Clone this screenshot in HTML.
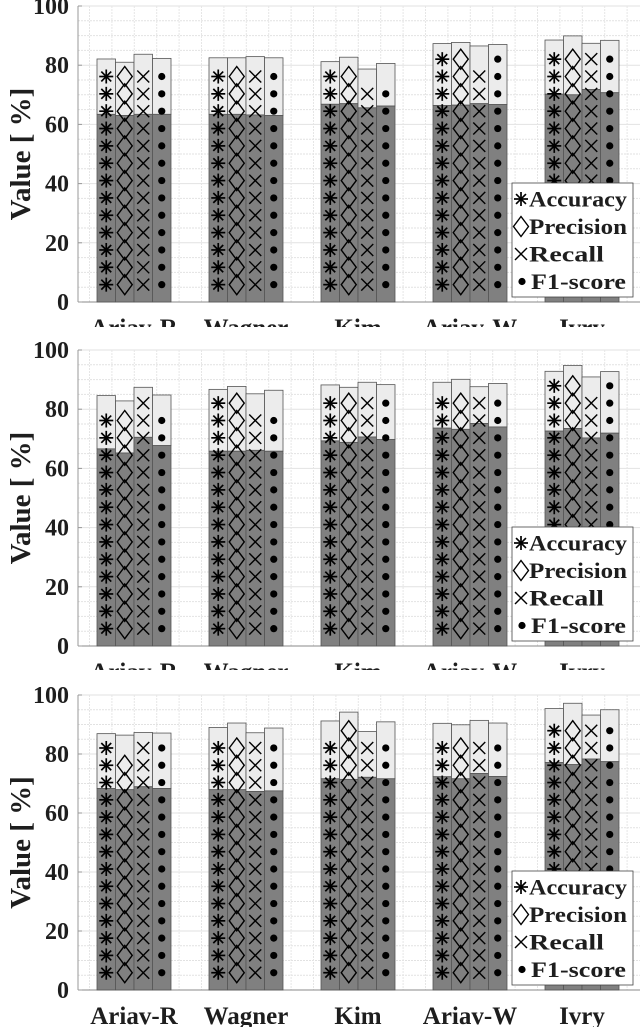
<!DOCTYPE html>
<html><head><meta charset="utf-8"><style>
html,body{margin:0;padding:0;background:#fff;}
svg{display:block;}
text{font-family:"Liberation Serif",serif;font-weight:bold;fill:#1e1e1e;}
</style></head><body>
<svg id="chart" width="640" height="1027" viewBox="0 0 640 1027" xmlns="http://www.w3.org/2000/svg">
<defs>
<clipPath id="c0"><rect x="0" y="0" width="640" height="327"/></clipPath>
<clipPath id="c1"><rect x="0" y="330" width="640" height="340"/></clipPath>
<clipPath id="c2"><rect x="0" y="680" width="640" height="347"/></clipPath>
</defs>
</svg>
<script>
const categories = ["Ariav-R","Wagner","Kim","Ariav-W","Ivry"];
const seriesNames = ["Accuracy","Precision","Recall","F1-score"];
const yTicks = [0,20,40,60,80,100];
// totals (upper light bar tops) per panel: [group][metric]
const p1Total = [[82.1,81.0,83.7,82.3],[82.5,82.5,82.9,82.5],[81.2,82.7,78.7,80.6],[87.3,87.7,86.5,87.0],[88.5,89.9,87.4,88.4]];
const p1Lower = [[63.4,63.0,63.4,63.4],[63.4,63.4,63.2,63.0],[66.8,67.0,65.6,66.2],[66.4,66.5,67.0,66.7],[70.2,70.0,71.8,70.7]];
const p2Total = [[84.6,82.8,87.4,84.8],[86.7,87.7,85.2,86.4],[88.2,87.4,89.1,88.3],[89.1,90.1,87.6,88.7],[92.8,94.8,90.9,92.7]];
const p2Lower = [[66.6,65.2,70.5,67.7],[65.8,65.8,66.1,65.8],[69.3,68.8,70.6,69.8],[73.6,73.2,75.2,74.0],[72.6,73.5,70.3,71.9]];
const p3Total = [[86.9,86.4,87.3,87.1],[89.0,90.5,87.2,88.8],[91.2,94.2,87.6,90.9],[90.4,89.9,91.4,90.5],[95.4,97.2,93.2,95.0]];
const p3Lower = [[68.3,67.9,68.9,68.3],[67.9,67.9,67.3,67.5],[71.6,71.4,72.1,71.6],[72.3,71.6,73.4,72.4],[77.1,76.4,78.3,77.4]];

const NS="http://www.w3.org/2000/svg";
const svg=document.getElementById('chart');
function mk(tag,attrs,parent){const e=document.createElementNS(NS,tag);for(const k in attrs)e.setAttribute(k,attrs[k]);(parent||svg).appendChild(e);return e;}

const panels=[
 {top:6,bottom:302,clip:'c0',legTop:183,total:p1Total,lower:p1Lower},
 {top:350,bottom:646,clip:'c1',legTop:527,total:p2Total,lower:p2Lower},
 {top:695,bottom:990,clip:'c2',legTop:871,total:p3Total,lower:p3Lower}
];
const xLeft=78, xRight=640, groupC0=134, groupStep=112, barW=18.5;
function xc(i){return groupC0+i*groupStep;}

function marker(g,type,cx,cy){
  if(type===0){
    for(const a of [0,45,90,135]){const r=a*Math.PI/180, l=7;
      const m=mk('line',{x1:cx-l*Math.cos(r),y1:cy-l*Math.sin(r),x2:cx+l*Math.cos(r),y2:cy+l*Math.sin(r),stroke:'#000','stroke-width':1.7},g);
      
      }
  } else if(type===1){
    const m=mk('polygon',{points:`${cx},${cy-10} ${cx+7.5},${cy} ${cx},${cy+10} ${cx-7.5},${cy}`,fill:'none',stroke:'#000','stroke-width':1.4},g);
    
    
  } else if(type===2){
    const l=6;
    mk('line',{x1:cx-l,y1:cy-l,x2:cx+l,y2:cy+l,stroke:'#000','stroke-width':1.4},g);
    const m=mk('line',{x1:cx-l,y1:cy+l,x2:cx+l,y2:cy-l,stroke:'#000','stroke-width':1.4},g);
    
    
  } else {
    const m=mk('circle',{cx:cx,cy:cy,r:3.6,fill:'#000'},g);
    
    
  }
}

panels.forEach((p,pi)=>{
  const sc=(p.bottom-p.top)/100;
  const y=v=>p.bottom-v*sc;
  const g=mk('g',{'clip-path':`url(#${p.clip})`});
  
  
  for(let v=5;v<=100;v+=5){const l=mk('line',{x1:xLeft,x2:xRight,y1:y(v),y2:y(v),stroke:'#e2e2e2','stroke-width':1,'stroke-dasharray':v%20===0?'none':'2 1'},g);
    
    }
  for(let x=xLeft+11.5;x<xRight;x+=22.4){const l=mk('line',{x1:x,x2:x,y1:p.top,y2:p.bottom,stroke:'#e6e6e6','stroke-width':1,'stroke-dasharray':'2 1'},g);
    
    }
  const ax=mk('line',{x1:xLeft,x2:xLeft,y1:p.top,y2:p.bottom,stroke:'#999','stroke-width':1},g);
  
  
  const bx=mk('line',{x1:xLeft,x2:xRight,y1:p.bottom,y2:p.bottom,stroke:'#888','stroke-width':1},g);
  
  
  yTicks.forEach(t=>{
    const tl=mk('line',{x1:xLeft,x2:xLeft+4,y1:y(t),y2:y(t),stroke:'#999'},g);
    
    
    const tx=mk('text',{x:69,y:y(t)+8,'text-anchor':'end','font-size':24},g);
    tx.textContent=t;
    
    
  });
  const yt=mk('text',{x:0,y:0,'text-anchor':'middle','font-size':29,transform:`translate(30,${(p.top+p.bottom)/2}) rotate(-90)`},g);
  yt.textContent='Value [ %]';
  
  
  categories.forEach((cat,gi)=>{
    for(let s=0;s<4;s++){
      const x0=xc(gi)-2*barW+s*barW;
      const tot=p.total[gi][s], low=p.lower[gi][s];
      const r1=mk('rect',{x:x0,y:y(tot),width:barW,height:y(low)-y(tot),fill:'#ececec',stroke:'#555','stroke-width':0.8},g);
      
      
      const r2=mk('rect',{x:x0,y:y(low),width:barW,height:p.bottom-y(low),fill:'#808080',stroke:'#555','stroke-width':0.8},g);
      
      
      const step=5.86;
      for(let k=1;k*step<=tot-4.5;k++) marker(g,s,x0+barW/2,y(k*step));
    }
    const xl=mk('text',{x:xc(gi),y:p.bottom+34,'text-anchor':'middle','font-size':25},g);
    xl.textContent=cat;
    
    
  });
  const lg=mk('g',{},g);
  
  
  const lt=p.legTop;
  mk('rect',{x:512,y:lt,width:121,height:114,fill:'#fff',stroke:'#444','stroke-width':0.8},lg);
  seriesNames.forEach((n,i)=>{
    const cy=lt+16+i*27.5;
    marker(lg,i,i===3?522:521,cy);
    const t=mk('text',{x:i===3?531:529,y:cy+7.5,'font-size':22.5,textLength:i===3?95:(i===2?75:98),lengthAdjust:'spacingAndGlyphs'},lg);
    t.textContent=n;
    
    
  });
});
</script>
</body></html>
